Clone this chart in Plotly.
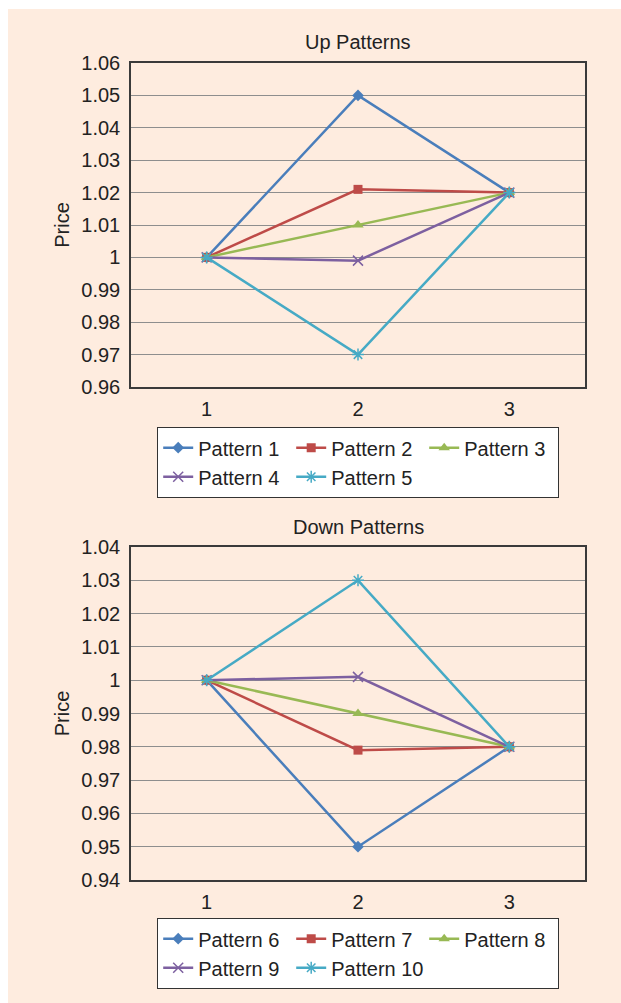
import plotly.graph_objects as go

periods = [1, 2, 3]
up_names = ["Pattern 1", "Pattern 2", "Pattern 3", "Pattern 4", "Pattern 5"]
up_values = [
    [1.0, 1.05, 1.02],
    [1.0, 1.021, 1.02],
    [1.0, 1.01, 1.02],
    [1.0, 0.999, 1.02],
    [1.0, 0.97, 1.02],
]
down_names = ["Pattern 6", "Pattern 7", "Pattern 8", "Pattern 9", "Pattern 10"]
down_values = [
    [1.0, 0.95, 0.98],
    [1.0, 0.979, 0.98],
    [1.0, 0.99, 0.98],
    [1.0, 1.001, 0.98],
    [1.0, 1.03, 0.98],
]
up_ticks = [0.96, 0.97, 0.98, 0.99, 1.0, 1.01, 1.02, 1.03, 1.04, 1.05, 1.06]
up_ticktext = ["0.96", "0.97", "0.98", "0.99", "1", "1.01", "1.02", "1.03", "1.04", "1.05", "1.06"]
down_ticks = [0.94, 0.95, 0.96, 0.97, 0.98, 0.99, 1.0, 1.01, 1.02, 1.03, 1.04]
down_ticktext = ["0.94", "0.95", "0.96", "0.97", "0.98", "0.99", "1", "1.01", "1.02", "1.03", "1.04"]

colors = ["#4A7EBB", "#BE4B48", "#98B954", "#7D60A0", "#46AAC5"]
symbols = ["diamond", "square", "triangle-up", "x-thin", "asterisk"]
sizes = [9, 9, 10, 10, 10]

FONT = "Liberation Sans, Arial, sans-serif"
W, H = 621, 1003
ML, MR, MT, MB = 131, 36, 63, 123
PW, PH = W - ML - MR, H - MT - MB


def py(pix):
    return (H - MB - pix) / PH


def px(pix):
    return (pix - ML) / PW


fig = go.Figure()


def add_group(names, values, xa, ya, legend):
    for i, (n, v) in enumerate(zip(names, values)):
        thin = symbols[i] in ("x-thin", "asterisk")
        fig.add_trace(go.Scatter(
            x=periods, y=v, name=n, mode="lines+markers",
            xaxis=xa, yaxis=ya, legend=legend,
            line=dict(color=colors[i], width=2.5),
            marker=dict(symbol=symbols[i], size=sizes[i], color=colors[i],
                        line=dict(color=colors[i], width=1.5 if thin else 0)),
        ))


add_group(up_names, up_values, "x", "y", "legend")
add_group(down_names, down_values, "x2", "y2", "legend2")

top_dom = [py(387), 1.0]
bot_dom = [0.0, py(547)]

axis_common = dict(
    showline=True, mirror=True, linecolor="#3a3a3a", linewidth=1.5,
    zeroline=False, ticks="", tickfont=dict(family=FONT, size=20, color="#222"),
)
grid = dict(showgrid=True, gridcolor="#8e8e8e", gridwidth=1.2)
title_font = dict(family=FONT, size=20, color="#222")

fig.update_layout(
    width=W, height=H,
    margin=dict(l=ML, r=MR, t=MT, b=MB),
    paper_bgcolor="white", plot_bgcolor="#F3F3E8",
    font=dict(family=FONT, size=20, color="#222"),
    xaxis=dict(domain=[0, 1], anchor="y", range=[0.5, 3.5], tickvals=periods,
               showgrid=False, ticklabelstandoff=3, **axis_common),
    yaxis=dict(domain=top_dom, anchor="x", range=[0.96, 1.06], tickvals=up_ticks,
               ticktext=up_ticktext, ticklabelstandoff=5,
               title=dict(text="Price", font=title_font, standoff=6),
               **axis_common, **grid),
    xaxis2=dict(domain=[0, 1], anchor="y2", range=[0.5, 3.5], tickvals=periods,
                showgrid=False, ticklabelstandoff=3, **axis_common),
    yaxis2=dict(domain=bot_dom, anchor="x2", range=[0.94, 1.04], tickvals=down_ticks,
                ticktext=down_ticktext, ticklabelstandoff=5,
                title=dict(text="Price", font=title_font, standoff=6),
                **axis_common, **grid),
    legend=dict(x=0.5, xanchor="center", y=py(427), yanchor="top",
                orientation="h", entrywidth=88, bgcolor="white",
                bordercolor="#333", borderwidth=1.2,
                font=dict(family=FONT, size=20, color="#222"), tracegroupgap=0),
    legend2=dict(x=0.5, xanchor="center", y=py(918), yanchor="top",
                 orientation="h", entrywidth=88, bgcolor="white",
                 bordercolor="#333", borderwidth=1.2,
                 font=dict(family=FONT, size=20, color="#222"), tracegroupgap=0),
    showlegend=True,
    shapes=[dict(type="rect", xref="paper", yref="paper", layer="below",
                 x0=px(8), x1=px(640), y0=py(1020), y1=py(9),
                 fillcolor="#FEECDF", line=dict(width=0))],
    annotations=[
        dict(text="Up Patterns", xref="paper", yref="paper", x=0.5, y=py(42),
             xanchor="center", yanchor="middle", showarrow=False,
             font=dict(family=FONT, size=20, color="#222")),
        dict(text="Down Patterns", xref="paper", yref="paper", x=0.5, y=py(527),
             xanchor="center", yanchor="middle", showarrow=False,
             font=dict(family=FONT, size=20, color="#222")),
    ],
)

fig.write_html("out.html")
